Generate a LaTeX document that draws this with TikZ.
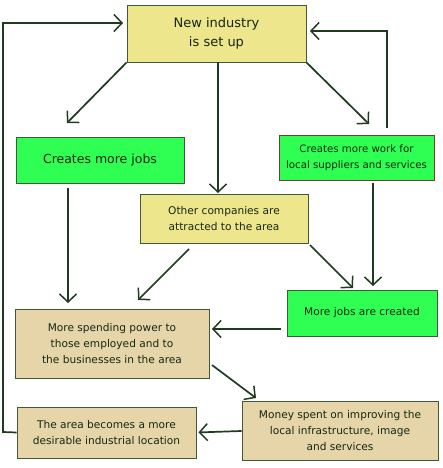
\documentclass[tikz,border=0pt]{standalone}
\usepackage{fontspec}
\setmainfont{DejaVu Sans}
\usetikzlibrary{arrows.meta}
\definecolor{yel}{HTML}{EEE68C}
\definecolor{grn}{HTML}{2EFF52}
\definecolor{tan}{HTML}{E5D5A8}
\definecolor{edge}{HTML}{3E5A3A}
\definecolor{redge}{HTML}{7A3A2A}
\definecolor{arrc}{HTML}{203A20}
\definecolor{txt}{HTML}{142814}
\tikzset{
  box/.style={draw=edge, line width=0.9pt, rectangle, align=center, inner sep=2pt,
    font=\fontsize{10.6}{16}\selectfont, text=txt},
  arr/.style={draw=arrc, line width=1.7pt, -{Straight Barb[length=8pt,width=17pt,line width=1.5pt]}},
}
\begin{document}
\begin{tikzpicture}[x=1pt,y=-1pt]
\useasboundingbox (0,0) rectangle (442,468);
\node[box, fill=yel, minimum width=179pt, minimum height=57pt, font=\fontsize{13}{19}\selectfont] (ni) at (216.5,33.5) {New industry\\is set up};
\node[box, fill=grn, minimum width=168pt, minimum height=46pt, font=\fontsize{12.5}{16}\selectfont] (cmj) at (100,160) {Creates more jobs};
\node[box, fill=grn, draw=redge, minimum width=155pt, minimum height=45pt, font=\fontsize{10.2}{16}\selectfont] (cmw) at (356.5,157.5) {Creates more work for\\local suppliers and services};
\node[box, fill=yel, minimum width=168pt, minimum height=49pt] (oc) at (224,218.5) {Other companies are\\attracted to the area};
\node[box, fill=grn, minimum width=150pt, minimum height=46pt] (mjc) at (362,313) {More jobs are created};
\node[box, fill=tan, minimum width=194pt, minimum height=69pt] (msp) at (112,343.5) {More spending power to\\those employed and to\\the businesses in the area};
\node[box, fill=tan, minimum width=196pt, minimum height=59pt] (ms) at (340,431) {Money spent on improving the\\local infrastructure, image\\and services};
\node[box, fill=tan, minimum width=179pt, minimum height=51pt] (ab) at (106.5,432.5) {The area becomes a more\\desirable industrial location};

\coordinate (niL) at (123,23);
\coordinate (niR) at (310,31);
\coordinate (cmwT) at (387,128);
\coordinate (t1) at (67,123);
\coordinate (t2) at (369,124);
\coordinate (a0) at (218,62);
\coordinate (b0) at (218,193);
\coordinate (a1) at (68,188);
\coordinate (b1) at (68,303);
\coordinate (a2) at (189,249);
\coordinate (b2) at (138,300);
\coordinate (a3) at (310,245);
\coordinate (b3) at (353,288);
\coordinate (a4) at (373,183);
\coordinate (b4) at (373,286);
\coordinate (a5) at (281,329);
\coordinate (b5) at (212,329);
\coordinate (a6) at (212,365);
\coordinate (b6) at (256,398);

\draw[arr] (ab.west) -- (3,432) |- (niL);
\draw[arr] (cmwT) |- (niR);
\draw[arr] (ni.south west) -- (t1);
\draw[arr] (a0) -- (b0);
\draw[arr] (ni.south east) -- (t2);
\draw[arr] (a1) -- (b1);
\draw[arr] (a2) -- (b2);
\draw[arr] (a3) -- (b3);
\draw[arr] (a4) -- (b4);
\draw[arr] (a5) -- (b5);
\draw[arr] (a6) -- (b6);
\draw[arr, shorten >=2pt] (ms.west) -- (ab.east);
\end{tikzpicture}
\end{document}
